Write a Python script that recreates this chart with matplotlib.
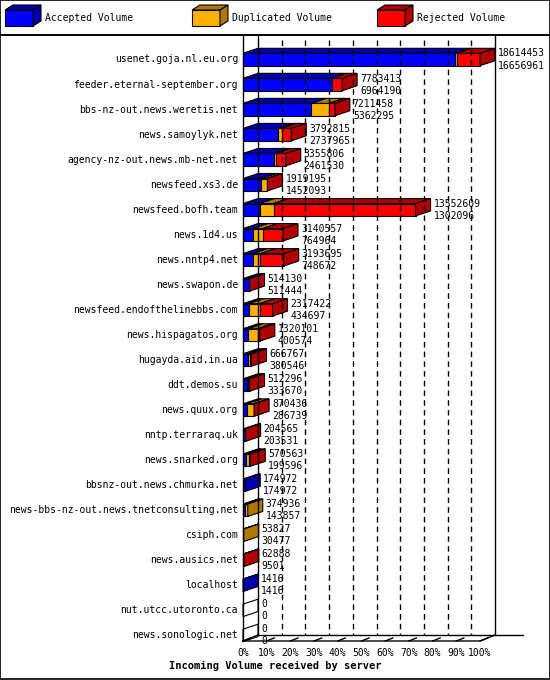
import matplotlib
matplotlib.use("Agg")
import matplotlib.pyplot as plt
from matplotlib.patches import Polygon, Rectangle

servers = ["usenet.goja.nl.eu.org", "feeder.eternal-september.org", "bbs-nz-out.news.weretis.net",
           "news.samoylyk.net", "agency-nz-out.news.mb-net.net", "newsfeed.xs3.de", "newsfeed.bofh.team",
           "news.1d4.us", "news.nntp4.net", "news.swapon.de", "newsfeed.endofthelinebbs.com",
           "news.hispagatos.org", "hugayda.aid.in.ua", "ddt.demos.su", "news.quux.org", "nntp.terraraq.uk",
           "news.snarked.org", "bbsnz-out.news.chmurka.net", "news-bbs-nz-out.news.tnetconsulting.net",
           "csiph.com", "news.ausics.net", "localhost", "nut.utcc.utoronto.ca", "news.sonologic.net"]
total = [18614453, 7783413, 7211458, 3792815, 3355806, 1919195, 13552609, 3140557, 3193695, 514130,
         2317422, 1320101, 666767, 512296, 870436, 204565, 570563, 174972, 374936, 53827, 62888, 1416, 0, 0]
accepted = [16656961, 6964190, 5362295, 2737965, 2461530, 1452093, 1302096, 764964, 748672, 511444,
            434697, 400574, 380546, 333670, 286739, 203531, 199596, 174972, 143857, 30477, 9501, 1416, 0, 0]
duplicated = [130000, 0, 1400000, 290000, 134000, 447000, 1097000, 785000, 612000, 0,
              879000, 742000, 200000, 20000, 550000, 0, 300000, 0, 231079, 23350, 0, 0, 0, 0]
rejected = [t - a - d for t, a, d in zip(total, accepted, duplicated)]
xticks = [0, 10, 20, 30, 40, 50, 60, 70, 80, 90, 100]

W, H = 550, 680
fig = plt.figure(figsize=(5.5, 6.8), dpi=100)
ax = fig.add_axes([0, 0, 1, 1])
X0, XW = 243.0, 237.0
Y0, YS = 59.5, 25.04
ax.set_xlim(-X0 / XW, (W - X0) / XW)
ax.set_ylim((H - Y0) / YS, -Y0 / YS)
ax.axis("off")
fig.patch.set_facecolor("white")

def px(xp): return (xp - X0) / XW
def py(yp): return (yp - Y0) / YS

DX, DY = 15 / XW, -5 / YS
HH = 0.495 / 2
mono = "DejaVu Sans Mono"
cols = {"a": ("#0000ff", "#0000b0"), "d": ("#ffb000", "#b07800"), "r": ("#ff0000", "#b00000")}

# frame
ax.add_patch(Rectangle((px(0.5), py(0.5)), px(549.5) - px(0.5), py(35) - py(0.5), fill=False, lw=1.2, ec="black"))
ax.add_patch(Rectangle((px(0.5), py(35)), px(549.5) - px(0.5), py(679) - py(35), fill=False, lw=1.2, ec="black"))

# back plane / grid
ax.plot([0, 0], [py(36), py(641)], color="black", lw=1)
ax.plot([DX, DX], [py(36), py(635)], color="black", lw=1)
ax.plot([1 + DX, 1 + DX], [py(36), py(635)], color="black", lw=1)
for t in xticks[1:-1]:
    ax.plot([t / 100 + DX] * 2, [py(40), py(635)], color="black", lw=1, ls=(0, (4, 3)))
ax.plot([DX, px(523)], [py(635)] * 2, color="black", lw=1)
ax.plot([0, 1, 1 + DX], [py(641), py(641), py(635)], color="black", lw=1)
ax.plot([0, DX], [py(641), py(635)], color="black", lw=1)
for t in xticks:
    x = t / 100
    ax.plot([x, x + DX * 0.5], [py(641), py(638)], color="black", lw=1)
    ax.text(x, py(653), f"{t}%", ha="center", va="center", fontsize=7, family=mono)
ax.text(px(275), py(666), "Incoming Volume received by server", ha="center", va="center",
        fontsize=7.5, family=mono, weight="bold")

def box(x1, x2, r, key, side):
    f, d = cols[key]
    ax.add_patch(Polygon([(x1, r - HH), (x2, r - HH), (x2, r + HH), (x1, r + HH)],
                         closed=True, fc=f, ec="black", lw=0.8))
    ax.add_patch(Polygon([(x1, r - HH), (x2, r - HH), (x2 + DX, r - HH + DY), (x1 + DX, r - HH + DY)],
                         closed=True, fc=d, ec="black", lw=0.8))
    if side:
        ax.add_patch(Polygon([(x2, r - HH), (x2 + DX, r - HH + DY), (x2 + DX, r + HH + DY), (x2, r + HH)],
                             closed=True, fc=d, ec="black", lw=0.8))

mx = max(total)
for i, name in enumerate(servers):
    ax.text(px(238), i, name, ha="right", va="center", fontsize=7, family=mono)
    segs = [(accepted[i], "a"), (duplicated[i], "d"), (rejected[i], "r")]
    segs = [s for s in segs if s[0] > 0]
    x = 0.0
    if not segs:
        ax.add_patch(Polygon([(0, i - HH), (DX, i - HH + DY), (DX, i + HH + DY), (0, i + HH)],
                             closed=True, fc="white", ec="black", lw=0.8))
    for j, (v, k) in enumerate(segs):
        w = v / mx
        box(x, x + w, i, k, j == len(segs) - 1)
        x += w
    ex = x + DX + 3 / XW
    ax.text(ex, i - 0.24, str(total[i]), ha="left", va="center", fontsize=7, family=mono)
    ax.text(ex, i + 0.24, str(accepted[i]), ha="left", va="center", fontsize=7, family=mono)

# legend
for lx, lab, k in [(5, "Accepted Volume", "a"), (192, "Duplicated Volume", "d"), (377, "Rejected Volume", "r")]:
    f, d = cols[k]
    r = py(18)
    x1, x2 = px(lx), px(lx + 28)
    hh = 8 / YS
    ddx, ddy = 8 / XW, -5 / YS
    ax.add_patch(Polygon([(x1, r - hh), (x2, r - hh), (x2, r + hh), (x1, r + hh)], fc=f, ec="black", lw=0.8))
    ax.add_patch(Polygon([(x1, r - hh), (x2, r - hh), (x2 + ddx, r - hh + ddy), (x1 + ddx, r - hh + ddy)], fc=d, ec="black", lw=0.8))
    ax.add_patch(Polygon([(x2, r - hh), (x2 + ddx, r - hh + ddy), (x2 + ddx, r + hh + ddy), (x2, r + hh)], fc=d, ec="black", lw=0.8))
    ax.text(px(lx + 40), r, lab, ha="left", va="center", fontsize=7, family=mono)

fig.savefig("out.png", dpi=100)
